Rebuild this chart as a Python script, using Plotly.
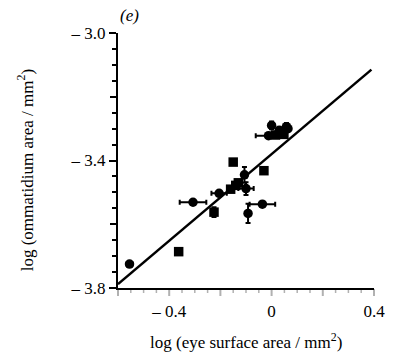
import plotly.graph_objects as go

# Species means: log eye surface area vs log ommatidium area (mm^2)
eye_area = [-0.555, -0.363, -0.307, -0.225, -0.150, -0.030, -0.106, -0.205,
            -0.160, -0.130, -0.100, -0.140, -0.092, -0.036,
            0.000, 0.058, 0.015, -0.012, 0.048, 0.030, 0.064]
omm_area = [-3.725, -3.686, -3.531, -3.562, -3.405, -3.432, -3.445, -3.503,
            -3.490, -3.470, -3.488, -3.478, -3.566, -3.537,
            -3.290, -3.294, -3.320, -3.322, -3.318, -3.305, -3.300]
eye_err = [0.012, 0.0, 0.052, 0.0, 0.0, 0.0, 0.0, 0.030,
           0.0, 0.0, 0.030, 0.0, 0.0, 0.050,
           0.0, 0.0, 0.0, 0.050, 0.0, 0.0, 0.0]
omm_err = [0.0, 0.0, 0.0, 0.015, 0.0, 0.0, 0.025, 0.0,
           0.0, 0.0, 0.020, 0.0, 0.030, 0.0,
           0.012, 0.012, 0.0, 0.0, 0.010, 0.0, 0.0]
symbols = ["circle", "square", "circle", "square", "square", "square", "circle", "circle",
           "square", "square", "circle", "square", "circle", "circle",
           "circle", "circle", "square", "circle", "square", "circle", "circle"]

# Fitted regression line
fit_x = [-0.6, 0.39]
fit_slope = 0.68
fit_intercept = -3.38
fit_y = [fit_intercept + fit_slope * v for v in fit_x]

x_range = [-0.6, 0.4]
y_range = [-3.8, -3.0]
x_ticks = [-0.4, 0.0, 0.4]
x_text = ["– 0.4", "0", "0.4"]
y_ticks = [-3.8, -3.4, -3.0]
y_text = ["– 3.8", "– 3.4", "– 3.0"]
x_long_ticks = [-0.6, -0.4, -0.2, 0.0, 0.2, 0.4]
x_short_ticks = [round(-0.6 + 0.05 * i, 2) for i in range(21)]
y_mid_ticks = [-3.6, -3.2]

font = dict(family="Liberation Serif", size=17, color="black")

fig = go.Figure()
fig.add_trace(go.Scatter(
    x=fit_x, y=fit_y, mode="lines",
    line=dict(color="black", width=2.5), showlegend=False, hoverinfo="skip"))
fig.add_trace(go.Scatter(
    x=eye_area, y=omm_area, mode="markers",
    marker=dict(symbol=symbols, size=9.5, color="black"),
    error_x=dict(type="data", array=eye_err, color="black", thickness=2, width=2.5),
    error_y=dict(type="data", array=omm_err, color="black", thickness=2, width=2.5),
    showlegend=False))
# Invisible trace that attaches the secondary y tick axis
fig.add_trace(go.Scatter(x=[None], y=[None], yaxis="y2",
                         showlegend=False, hoverinfo="skip"))

minor_y = dict(ticks="outside", ticklen=4, tickwidth=1.5, tickcolor="black", dtick=0.05)

fig.update_layout(
    template="simple_white",
    width=397, height=357,
    margin=dict(l=118, r=14, t=33, b=69),
    paper_bgcolor="white", plot_bgcolor="white",
    xaxis=dict(range=x_range, tickvals=x_ticks, ticktext=x_text, tickfont=font,
               ticks="outside", ticklen=7, tickwidth=2, tickcolor="rgba(0,0,0,0)",
               showline=True, linecolor="black", linewidth=2),
    yaxis=dict(range=y_range, tickvals=y_ticks, ticktext=y_text, tickfont=font,
               ticks="outside", ticklen=7, tickwidth=2, tickcolor="black",
               showline=True, linecolor="black", linewidth=2, minor=minor_y),
    yaxis2=dict(overlaying="y", anchor="x", side="left", range=y_range,
                tickvals=y_mid_ticks, showticklabels=False, showline=False,
                ticks="outside", ticklen=7, tickwidth=2, tickcolor="black"),
)

# Tick marks under the x axis: positions mapped linearly through the axis range
x_span = x_range[1] - x_range[0]
for v in x_short_ticks:
    long_tick = any(abs(v - t) < 1e-9 for t in x_long_ticks)
    px = (v - x_range[0]) / x_span
    fig.add_shape(type="line", xref="paper", yref="paper", x0=px, x1=px,
                  y0=-0.004, y1=-(8 if long_tick else 5) / 255,
                  line=dict(color="black", width=2 if long_tick else 1.5))

fig.add_annotation(text="log (eye surface area / mm<sup>2</sup>)", xref="paper", yref="paper",
                   x=0.5, y=-0.208, xanchor="center", yanchor="middle",
                   showarrow=False, font=font)
fig.add_annotation(text="log (ommatidium area / mm<sup>2</sup>)", xref="paper", yref="paper",
                   x=-0.362, y=0.463, xanchor="center", yanchor="middle", textangle=-90,
                   showarrow=False, font=font)
fig.add_annotation(text="<i>(e)</i>", xref="paper", yref="paper",
                   x=0.045, y=1.07, xanchor="center", yanchor="middle",
                   showarrow=False, font=font)

fig.write_html("out.html")
